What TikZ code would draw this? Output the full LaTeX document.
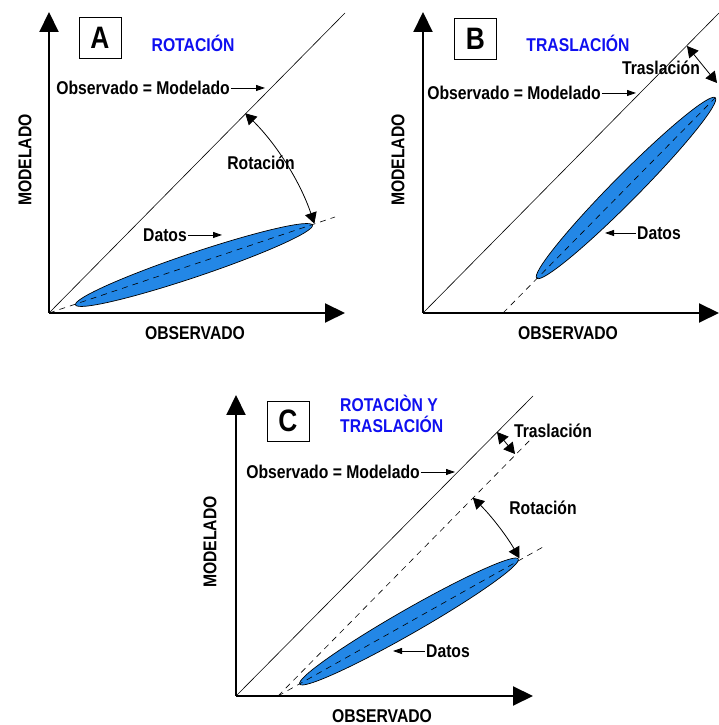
\documentclass[tikz,border=0pt]{standalone}
\usepackage{fontspec}
\setmainfont{Liberation Sans}[FakeStretch=0.85]
\usetikzlibrary{arrows.meta}
\definecolor{datblue}{RGB}{35,135,230}
\definecolor{ttlblue}{RGB}{15,15,240}

\begin{document}
\begin{tikzpicture}[x=1pt, y=1pt,
  lbl/.style={font=\bfseries\fontsize{18.5}{21}\selectfont, inner sep=1pt},
  ttl/.style={lbl, text=ttlblue},
  letterbox/.style={draw, line width=0.6pt, minimum width=42pt, minimum height=41pt, inner sep=0pt, font=\bfseries\fontsize{31}{31}\selectfont},
  axis/.style={line width=2pt, -{Triangle[length=20pt,width=19pt]}},
  pointer/.style={line width=0.8pt, -{Triangle[length=9pt,width=6pt]}},
  turn/.style={line width=0.8pt, {Triangle[length=11pt,width=12pt]}-{Triangle[length=11pt,width=12pt]}},
  datos/.style={draw, line width=0.7pt, fill=datblue},
  guide/.style={dash pattern=on 6pt off 5pt, line width=0.6pt}
]
\useasboundingbox (0,0) rectangle (719,725);

% --- Axes and 1:1 lines (three panels) ---
\foreach \p/\x/\y/\w in {A/49/412/296, B/423/412/296, C/236/29/297} {
  \coordinate (o\p) at (\x,\y);
  \coordinate (top\p) at (\x,\y+301);
  \coordinate (end\p) at (\x+\w,\y);
  \coordinate (diag\p) at (\x+\w,\y+300);
  \draw[line width=0.6pt] (o\p) -- (diag\p);
  \draw[axis] (o\p) -- (top\p);
  \draw[axis] (o\p) -- (end\p);
}

% --- Panel A: rotation ---
\node[letterbox] (boxA) at (100,687) {A};
\node[ttl] (ttlA) at (193,682) {ROTACIÓN};
\node[lbl, rotate=90] (yA) at (25,565) {MODELADO};
\node[lbl] (xA) at (195,392) {OBSERVADO};

\draw[datos, rotate around={18.6:(194,460)}] (194,460) ellipse [x radius=125, y radius=12];
\coordinate (fitA) at (335,508);
\draw[guide] (oA) -- (fitA);

\node[lbl] (oneA) at (143,637) {Observado = Modelado};
\coordinate (oneAtip) at (265,637);
\draw[pointer] (oneA) -- (oneAtip);

\draw[turn] (oA) ++(45.5:280) arc[start angle=45.5, end angle=18.6, radius=280];
\node[lbl] (rotA) at (261,562) {Rotación};

\node[lbl] (datA) at (165,490) {Datos};
\coordinate (datAtip) at (222,490);
\draw[pointer] (datA) -- (datAtip);

% --- Panel B: translation ---
\node[letterbox] (boxB) at (475.5,686.5) {B};
\node[ttl] (ttlB) at (578,682) {TRASLACIÓN};
\node[lbl, rotate=90] (yB) at (398,565) {MODELADO};
\node[lbl] (xB) at (568,392) {OBSERVADO};

\draw[datos, rotate around={45.3:(626,537)}] (626,537) ellipse [x radius=127, y radius=13];
\coordinate (fitB0) at (503,412);
\coordinate (fitB) at (715,627);
\draw[guide] (fitB0) -- (fitB);

\node[lbl] (oneB) at (514,632) {Observado = Modelado};
\coordinate (oneBtip) at (636,632);
\draw[pointer] (oneB) -- (oneBtip);

\coordinate (shB0) at (687,679);
\coordinate (shB1) at (717,642);
\draw[turn] (shB0) -- (shB1);
\node[lbl] (trB) at (661,657) {Traslación};

\node[lbl] (datB) at (659,492) {Datos};
\coordinate (datBtip) at (605,492);
\draw[pointer] (datB) -- (datBtip);

% --- Panel C: rotation and translation ---
\node[letterbox, minimum height=40pt] (boxC) at (288,304) {C};
\node[ttl, align=left, anchor=west] (ttlC) at (339,311) {ROTACIÒN Y\\TRASLACIÓN};
\node[lbl, rotate=90] (yC) at (210,183) {MODELADO};
\node[lbl] (xC) at (382,9) {OBSERVADO};

\draw[datos, rotate around={29.8:(409,103.5)}] (409,103.5) ellipse [x radius=126, y radius=12];
\coordinate (fitC0) at (278,29);
\coordinate (fitC1) at (534,289);
\coordinate (fitC) at (543,178);
\draw[guide] (fitC0) -- (fitC1);
\draw[guide] (fitC0) -- (fitC);

\node[lbl] (oneC) at (333,253) {Observado = Modelado};
\coordinate (oneCtip) at (455,253);
\draw[pointer] (oneC) -- (oneCtip);

\draw[turn] (fitC0) ++(45.5:278) arc[start angle=45.5, end angle=29.7, radius=278];
\node[lbl] (rotC) at (543,217) {Rotación};

\coordinate (shC0) at (497,293);
\coordinate (shC1) at (515,271);
\draw[turn] (shC0) -- (shC1);
\node[lbl] (trC) at (553,294) {Traslación};

\node[lbl] (datC) at (448,74) {Datos};
\coordinate (datCtip) at (393,74);
\draw[pointer] (datC) -- (datCtip);

\end{tikzpicture}
\end{document}
